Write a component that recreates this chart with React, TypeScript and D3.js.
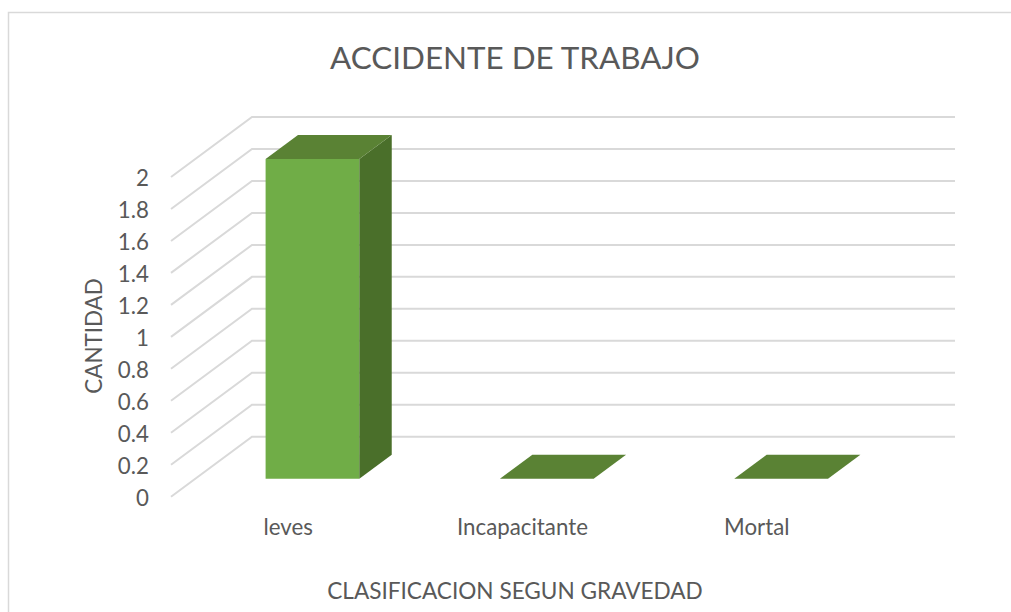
import * as d3 from 'd3';
import React, { useEffect, useRef } from 'react';

const categories = ['leves', 'Incapacitante', 'Mortal'];
const cantidad = [2, 0, 0];
const yTicks = [0, 0.2, 0.4, 0.6, 0.8, 1, 1.2, 1.4, 1.6, 1.8, 2];

const FONT = 'Lato, "Open Sans", sans-serif';
const TEXT = '#595959';
const GRID = '#d9d9d9';

function App() {
    const ref = useRef<SVGSVGElement>(null);

    useEffect(() => {
        const svg = d3.select(ref.current);
        svg.selectAll('*').remove();

        // front plane of the floor, the 3d depth is added by project()
        const x = d3.scaleBand<string>().domain(categories).range([171, 874]);
        const y = d3.scaleLinear().domain([0, 2]).range([496.7, 177]);
        const depth = d3.scaleLinear().domain([0, 1]).range([0, 1]);
        const depthX = 81;
        const depthY = -60;

        const project = (px: number, value: number, d: number): [number, number] => [
            px + depth(d) * depthX,
            y(value) + depth(d) * depthY,
        ];
        const poly = (pts: [number, number][]) => d3.line()(pts) + 'Z';

        // chart frame, only top and left show in the picture
        svg.append('path')
            .attr('d', 'M8.5,612V12.5H1011')
            .attr('fill', 'none')
            .attr('stroke', GRID)
            .attr('stroke-width', 1.5);

        svg.append('text')
            .attr('x', 515)
            .attr('y', 69)
            .attr('text-anchor', 'middle')
            .attr('font-size', 31.4)
            .attr('fill', TEXT)
            .text('ACCIDENTE DE TRABAJO');

        // gridlines, diagonal along the side wall then flat on the back wall
        svg.append('g')
            .selectAll('path')
            .data(yTicks)
            .enter()
            .append('path')
            .attr('d', d => d3.line()([
                project(x.range()[0], d, 0),
                project(x.range()[0], d, 1),
                project(x.range()[1], d, 1),
            ]))
            .attr('fill', 'none')
            .attr('stroke', GRID)
            .attr('stroke-width', 2);

        svg.append('g')
            .selectAll('text')
            .data(yTicks)
            .enter()
            .append('text')
            .attr('x', 149)
            .attr('y', d => y(d) + 1)
            .attr('dy', '0.36em')
            .attr('text-anchor', 'end')
            .attr('font-size', 22.3)
            .attr('fill', TEXT)
            .text(d => String(d));

        // bars, gap width 150% and depth from 0.3 to 0.7 of the floor
        const bars = svg.append('g');
        categories.forEach((c, i) => {
            const v = cantidad[i];
            const w = x.bandwidth() * 0.4;
            const x0 = x(c)! + x.bandwidth() * 0.3;
            const x1 = x0 + w;
            const d0 = 0.3;
            const d1 = 0.7;

            if (v > 0) {
                bars.append('path')
                    .attr('d', poly([project(x0, 0, d0), project(x1, 0, d0), project(x1, v, d0), project(x0, v, d0)]))
                    .attr('fill', '#70ad47');
                bars.append('path')
                    .attr('d', poly([project(x1, 0, d0), project(x1, 0, d1), project(x1, v, d1), project(x1, v, d0)]))
                    .attr('fill', '#4a6f2a');
            }
            bars.append('path')
                .attr('d', poly([project(x0, v, d0), project(x1, v, d0), project(x1, v, d1), project(x0, v, d1)]))
                .attr('fill', '#5a8234');
        });

        svg.append('g')
            .selectAll('text')
            .data(categories)
            .enter()
            .append('text')
            .attr('x', d => x(d)! + x.bandwidth() / 2)
            .attr('y', 535)
            .attr('text-anchor', 'middle')
            .attr('font-size', 22.3)
            .attr('fill', TEXT)
            .text(d => d);

        svg.append('text')
            .attr('x', 515)
            .attr('y', 599)
            .attr('text-anchor', 'middle')
            .attr('font-size', 22.6)
            .attr('fill', TEXT)
            .text('CLASIFICACION SEGUN GRAVEDAD');

        svg.append('text')
            .attr('transform', 'translate(102,336) rotate(-90)')
            .attr('text-anchor', 'middle')
            .attr('font-size', 22.4)
            .attr('fill', TEXT)
            .text('CANTIDAD');
    }, []);

    return (
        <svg
            ref={ref}
            width={1011}
            height={612}
            fontFamily={FONT}
            style={{ position: 'absolute', left: 0, top: 0, background: '#fff' }}
        />
    );
}

export default App;
